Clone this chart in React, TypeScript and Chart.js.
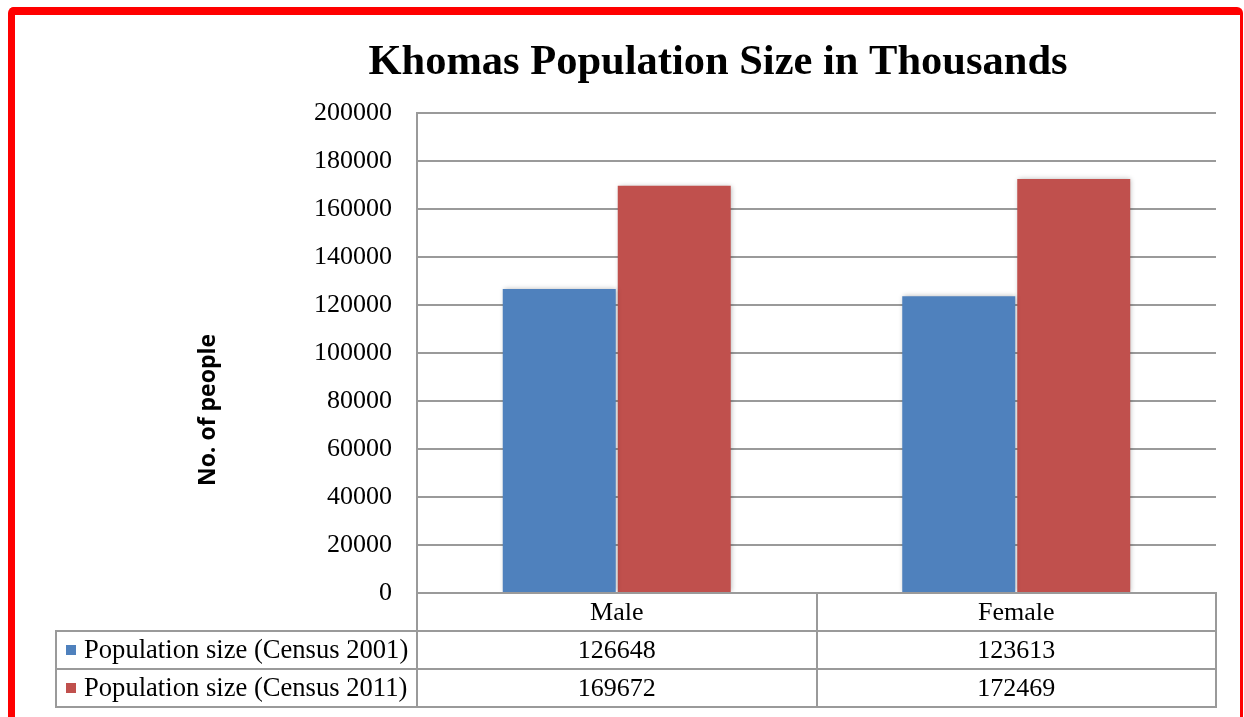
import React, { useEffect, useRef } from 'react';
import { Chart, registerables } from 'chart.js';

Chart.register(...registerables);

// ---- data ----
const categories = ['Male', 'Female'];
const seriesNames = ['Population size (Census 2001)', 'Population size (Census 2011)'];
const census2001 = [126648, 123613];
const census2011 = [169672, 172469];
const seriesColors = ['#4F81BD', '#C0504D'];
const yMin = 0;
const yMax = 200000;
const yStep = 20000;
const titleText = 'Khomas Population Size in Thousands';
const yTitleText = 'No. of people';

// ---- styles ----
const SERIF = "'Liberation Serif', 'Times New Roman', serif";
const SANS = "'Open Sans', 'Liberation Sans', sans-serif";
const LINE = '#9a9a9a';
const ROW_H = 38;
const TABLE_LEFT = 56;

const decorPlugin = {
  id: 'decor',
  beforeDatasetsDraw(chart: any) {
    const ctx = chart.ctx;
    ctx.save();
    ctx.shadowColor = 'rgba(0,0,0,0.28)';
    ctx.shadowBlur = 5;
    ctx.shadowOffsetX = 1;
    ctx.shadowOffsetY = 0;
  },
  afterDatasetsDraw(chart: any) {
    chart.ctx.restore();
  },
  afterDraw(chart: any) {
    const ctx = chart.ctx;
    const { left, right, top, bottom } = chart.chartArea;
    const xs = chart.scales.x;
    const seriesData = [census2001, census2011];

    ctx.save();
    // title
    ctx.fillStyle = '#000';
    ctx.font = `bold 42.5px ${SERIF}`;
    ctx.textAlign = 'center';
    ctx.textBaseline = 'alphabetic';
    ctx.fillText(titleText, 718, 74);

    // y-axis title
    ctx.save();
    ctx.translate(208, (top + bottom + 3 * ROW_H) / 2);
    ctx.rotate(-Math.PI / 2);
    ctx.font = `bold 23px ${SANS}`;
    ctx.textAlign = 'center';
    ctx.textBaseline = 'middle';
    ctx.fillText(yTitleText, 0, 0);
    ctx.restore();

    // table lines
    ctx.strokeStyle = LINE;
    ctx.lineWidth = 2;
    const line = (x1: number, y1: number, x2: number, y2: number) => {
      ctx.beginPath();
      ctx.moveTo(x1, y1);
      ctx.lineTo(x2, y2);
      ctx.stroke();
    };
    const nRows = seriesData.length;
    const tableBottom = bottom + (nRows + 1) * ROW_H;
    line(left, bottom, right + 1, bottom);
    for (let r = 1; r <= nRows + 1; r++) {
      const y = bottom + r * ROW_H;
      line(TABLE_LEFT - 1, y, right + 1, y);
    }
    line(left, bottom, left, tableBottom);
    line(right, bottom, right, tableBottom);
    line(TABLE_LEFT, bottom + ROW_H, TABLE_LEFT, tableBottom);
    for (let i = 1; i < categories.length; i++) {
      const x = Math.round((xs.getPixelForValue(i - 1) + xs.getPixelForValue(i)) / 2);
      line(x, bottom, x, tableBottom);
    }

    // table text
    ctx.fillStyle = '#000';
    ctx.font = `26px ${SERIF}`;
    ctx.textAlign = 'center';
    ctx.textBaseline = 'middle';
    categories.forEach((c, i) => {
      ctx.fillText(c, xs.getPixelForValue(i), bottom + ROW_H / 2 + 1);
    });
    seriesData.forEach((vals, r) => {
      const yMid = bottom + (r + 1) * ROW_H + ROW_H / 2 + 1;
      ctx.font = `26px ${SERIF}`;
      vals.forEach((v, i) => {
        ctx.fillText(String(v), xs.getPixelForValue(i), yMid);
      });
      ctx.fillStyle = seriesColors[r];
      ctx.fillRect(TABLE_LEFT + 10, yMid - 6, 10, 10);
      ctx.fillStyle = '#000';
      ctx.textAlign = 'left';
      ctx.font = `26.6px ${SERIF}`;
      ctx.fillText(seriesNames[r], TABLE_LEFT + 28, yMid);
      ctx.textAlign = 'center';
    });
    ctx.restore();
  },
};

export default function App() {
  const canvasRef = useRef<HTMLCanvasElement | null>(null);

  useEffect(() => {
    if (!canvasRef.current) return;
    const chart = new Chart(canvasRef.current, {
      type: 'bar',
      data: {
        labels: categories,
        datasets: [
          {
            label: seriesNames[0],
            data: census2001,
            backgroundColor: seriesColors[0],
            borderWidth: 0,
          },
          {
            label: seriesNames[1],
            data: census2011,
            backgroundColor: seriesColors[1],
            borderWidth: 0,
          },
        ],
      },
      options: {
        animation: false,
        responsive: true,
        maintainAspectRatio: false,
        layout: { padding: { top: 113, bottom: 124, left: 0, right: 28 } },
        datasets: {
          bar: { categoryPercentage: 0.5757, barPercentage: 0.9826 },
        },
        plugins: {
          legend: { display: false },
          title: { display: false },
          tooltip: { enabled: false },
        },
        scales: {
          x: { display: false },
          y: {
            min: yMin,
            max: yMax,
            ticks: {
              stepSize: yStep,
              color: '#000',
              padding: 25,
              font: { family: SERIF, size: 26 },
              callback: (v: any) => String(v),
            },
            grid: { color: LINE, lineWidth: 2, drawTicks: false },
            border: { display: true, color: LINE, width: 2 },
            afterFit: (s: any) => {
              s.width = 417;
              s.paddingTop = 0;
              s.paddingBottom = 0;
            },
          },
        },
      },
      plugins: [decorPlugin],
    });
    return () => chart.destroy();
  }, []);

  return (
    <>
      <div style={{ position: 'fixed', left: 0, top: 0, width: 1244, height: 717, background: '#fff' }}>
        <canvas ref={canvasRef} />
      </div>
      <div
        style={{
          position: 'fixed',
          left: 8,
          top: 7,
          width: 1235,
          height: 800,
          boxSizing: 'border-box',
          borderLeft: '7px solid #ff0000',
          borderTop: '8px solid #ff0000',
          borderRight: '3px solid #ff0000',
          borderRadius: '6px 6px 0 0',
          pointerEvents: 'none',
        }}
      />
    </>
  );
}
